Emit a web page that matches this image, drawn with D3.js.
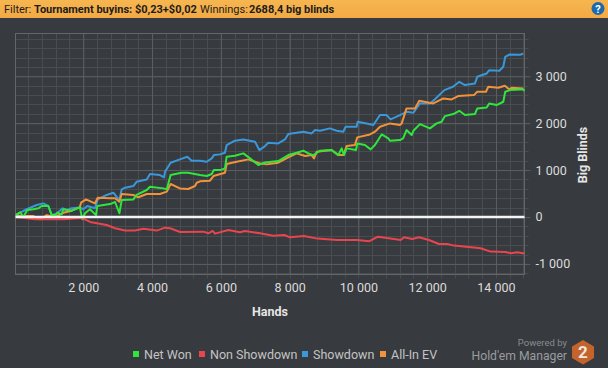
<!DOCTYPE html>
<html>
<head>
<meta charset="utf-8">
<title></title>
<script src="https://d3js.org/d3.v7.min.js"></script>
<style>
html, body { margin: 0; padding: 0; background: #373a3e; }
svg { display: block; font-family: Roboto, sans-serif; }
</style>
</head>
<body>
<svg class="chart" width="608" height="368"></svg>
<script>
const xTicks = [2000, 4000, 6000, 8000, 10000, 12000, 14000];
const yTicks = [-1000, 0, 1000, 2000, 3000];

const netWonHands = [36,163,260,375,550,695,790,985,1083,1180,1250,1370,1420,1665,1900,1974,2050,2197,2370,2410,2780,2925,3050,3118,3457,3550,3845,3940,4330,4430,4540,4860,5050,5395,5590,5735,5800,5976,6120,6170,6410,6655,6850,7090,7285,7670,7963,8205,8400,8545,8690,8883,9222,9416,9513,9581,9658,9930,9968,10190,10356,10482,10676,10870,10918,11209,11300,11400,11548,11600,11790,12080,12275,12420,12517,12760,12934,13100,13389,13457,13730,13806,14020,14213,14270,14407,14700,14794,14825];
const netWonValues = [40,100,5,150,165,185,235,235,40,40,90,55,165,135,205,-50,80,165,40,235,275,320,80,360,375,470,575,645,610,590,895,945,945,895,873,916,1000,1000,1037,1285,1306,1356,1250,1108,1164,1193,1320,1370,1413,1356,1320,1413,1427,1320,1463,1320,1463,1427,1569,1534,1441,1534,1760,1676,1626,1640,1676,1853,1747,1838,1980,1889,1995,2030,2151,2194,2265,2173,2194,2315,2336,2421,2386,2457,2670,2705,2720,2720,2690];

const nonShowdownHands = [36,600,1420,1955,2200,2680,2925,3215,3505,3750,4135,4377,4525,4815,5492,5637,5763,5830,6219,6558,6700,7139,7527,7850,8011,8418,8807,9388,9969,10308,10570,11035,11229,11326,11568,11762,12053,12343,12585,12780,13555,13845,14282,14430,14620,14824];
const nonShowdownValues = [0,-50,-50,-20,-105,-170,-240,-290,-290,-250,-290,-227,-241,-320,-312,-348,-298,-355,-277,-327,-298,-348,-398,-384,-433,-405,-461,-490,-490,-518,-419,-469,-490,-433,-469,-433,-490,-575,-575,-610,-667,-738,-745,-774,-752,-780];

const showdownHands = [36,356,647,840,985,1083,1230,1400,1520,1665,1900,2003,2120,2340,2420,2680,2875,3050,3118,3215,3457,3550,3845,3940,4230,4350,4377,4540,4810,5026,5150,5395,5590,5735,5800,5976,6120,6170,6410,6655,6994,7120,7285,7380,7670,7866,7963,8400,8640,8738,8883,9174,9368,9560,9630,9950,9978,10240,10434,10628,10820,10938,11209,11400,11600,11790,12080,12217,12500,12750,12934,13100,13389,13457,13730,13806,14100,14213,14270,14400,14700,14794];
const showdownValues = [40,165,255,290,235,40,75,185,150,185,205,165,235,185,375,470,518,360,590,625,660,750,800,915,895,845,965,1157,1228,1285,1200,1200,1178,1250,1320,1335,1370,1534,1626,1654,1605,1427,1512,1583,1569,1654,1768,1818,1782,1853,1839,1889,1839,1818,1924,1924,2030,1995,1960,2173,2173,2080,2172,2243,2222,2421,2421,2506,2705,2776,2883,2812,2847,2989,3060,3131,3117,3202,3415,3465,3458,3479];

const allInEvHands = [36,550,745,940,1180,1420,1665,1900,1936,2080,2340,2420,2780,2925,3050,3118,3457,3600,3845,4230,4430,4540,4810,5050,5250,5300,5395,5685,5785,6120,6170,6460,6800,6994,7140,7333,7670,7963,8205,8450,8640,8710,8790,9222,9416,9560,9658,9900,9968,10337,10482,10628,10918,11209,11260,11400,11645,11770,12178,12470,12711,12900,13360,13457,13710,13777,14067,14261,14388,14455,14794];
const allInEvValues = [20,20,-50,40,-5,90,135,205,305,375,290,410,398,398,325,490,470,420,490,490,540,703,610,596,660,730,760,775,873,945,1129,1178,1228,1178,1143,1122,1157,1270,1356,1300,1320,1250,1392,1427,1320,1320,1512,1534,1697,1760,1818,1924,1995,1960,1995,2315,2315,2478,2421,2528,2506,2577,2599,2670,2670,2776,2755,2797,2720,2755,2740];

const seriesNames = ['Net Won', 'Non Showdown', 'Showdown', 'All-In EV'];
const seriesColors = ['#2ee63c', '#e8454e', '#3a98da', '#f2933a'];

const svg = d3.select('.chart');

const plotLeft = 15.5, plotRight = 524.5, plotTop = 33.5, plotBottom = 274.5;
const scaleX = d3.scaleLinear().domain([30, 14830]).range([plotLeft, plotRight]);
const scaleY = d3.scaleLinear().domain([3912, -1226]).range([plotTop, plotBottom]);

const fmt = d => (d < 0 ? '-' : '') + d3.format(',')(Math.abs(d)).replace(/,/g, ' ');

// header bar
const grad = svg.append('defs').append('linearGradient')
    .attr('id', 'bar').attr('x1', 0).attr('x2', 0).attr('y1', 0).attr('y2', 1);
grad.append('stop').attr('offset', 0).attr('stop-color', '#f7b650');
grad.append('stop').attr('offset', 1).attr('stop-color', '#f2a944');
svg.append('rect').attr('width', 608).attr('height', 18).attr('fill', 'url(#bar)');

const headerParts = [
    {x: 4, t: 'Filter:', w: 400},
    {x: 34, t: 'Tournament buyins: $0,23+$0,02', w: 700},
    {x: 200, t: 'Winnings:', w: 400},
    {x: 249, t: '2688,4 big blinds', w: 700}
];
svg.selectAll('.head').data(headerParts).enter().append('text')
    .attr('class', 'head')
    .attr('x', d => d.x).attr('y', 13)
    .attr('font-size', '11px')
    .attr('font-weight', d => d.w)
    .attr('fill', '#1c1c1c')
    .text(d => d.t);

// help icon
svg.append('circle').attr('cx', 598).attr('cy', 8.5).attr('r', 6.5).attr('fill', '#1c69ab');
svg.append('text').attr('x', 598).attr('y', 12.5).attr('text-anchor', 'middle')
    .attr('font-size', '11px').attr('font-weight', 700).attr('fill', '#fff').text('?');

// grid, minor first so that major lines sit on top
const minorX = d3.range(400, 14830, 400);
const minorY = d3.range(-1200, 3912, 200);

svg.append('g').selectAll('line').data(minorX).enter().append('line')
    .attr('x1', d => Math.round(scaleX(d)) + 0.5).attr('x2', d => Math.round(scaleX(d)) + 0.5)
    .attr('y1', plotTop).attr('y2', plotBottom + 4).attr('stroke', '#4a4d50');
svg.append('g').selectAll('line').data(minorY).enter().append('line')
    .attr('y1', d => Math.round(scaleY(d)) + 0.5).attr('y2', d => Math.round(scaleY(d)) + 0.5)
    .attr('x1', plotLeft).attr('x2', plotRight + 4).attr('stroke', '#4a4d50');

const axisX = d3.axisBottom(scaleX).tickValues(xTicks).tickFormat(fmt).tickSize(0).tickPadding(9);
const axisY = d3.axisRight(scaleY).tickValues(yTicks).tickFormat(fmt).tickSize(0).tickPadding(11);

const gx = svg.append('g').attr('transform', `translate(0, ${plotBottom})`).call(axisX);
const gy = svg.append('g').attr('transform', `translate(${plotRight}, 0)`).call(axisY);
gx.select('.domain').remove();
gy.select('.domain').remove();
gx.selectAll('text').attr('font-size', '12.5px').attr('fill', '#dcdcdc').attr('font-family', 'Roboto, sans-serif');
gy.selectAll('text').attr('font-size', '12.5px').attr('fill', '#dcdcdc').attr('font-family', 'Roboto, sans-serif');
gx.selectAll('.tick').append('line').attr('y1', plotTop - plotBottom).attr('y2', 0).attr('stroke', '#5c5f62');
gy.selectAll('.tick').append('line').attr('x1', plotLeft - plotRight).attr('x2', 6).attr('stroke', '#5c5f62');

svg.append('rect').attr('x', plotLeft).attr('y', plotTop)
    .attr('width', plotRight - plotLeft).attr('height', plotBottom - plotTop)
    .attr('fill', 'none').attr('stroke', '#64676a');

// series
const lineData = [
    [netWonHands, netWonValues],
    [nonShowdownHands, nonShowdownValues],
    [showdownHands, showdownValues],
    [allInEvHands, allInEvValues]
];
const line = d3.line().x(d => scaleX(d[0])).y(d => scaleY(d[1]));

// drawing order as in the reference: blue, orange, green, then red
[2, 3, 0, 1].forEach(i => {
    svg.append('path')
        .datum(d3.zip(lineData[i][0], lineData[i][1]))
        .attr('d', line)
        .attr('fill', 'none')
        .attr('stroke', seriesColors[i])
        .attr('stroke-width', 2)
        .attr('stroke-linejoin', 'round');
});

// zero line
svg.append('line')
    .attr('x1', plotLeft).attr('x2', plotRight)
    .attr('y1', scaleY(0)).attr('y2', scaleY(0))
    .attr('stroke', '#f4f4f4').attr('stroke-width', 2.5);

// axis titles
svg.append('text').attr('x', 270).attr('y', 316).attr('text-anchor', 'middle')
    .attr('font-size', '12.5px').attr('font-weight', 700).attr('fill', '#e6e6e6').text('Hands');
svg.append('text').attr('transform', 'translate(587, 155) rotate(-90)').attr('text-anchor', 'middle')
    .attr('font-size', '12.5px').attr('font-weight', 700).attr('fill', '#e6e6e6').text('Big Blinds');

// legend
const legendX = [133, 199, 302, 380];
const legend = svg.selectAll('.leg').data(seriesNames).enter().append('g')
    .attr('class', 'leg')
    .attr('transform', (d, i) => `translate(${legendX[i]}, 351)`);
legend.append('rect').attr('width', 6).attr('height', 6).attr('fill', (d, i) => seriesColors[i]);
legend.append('text').attr('x', 11).attr('y', 7.5)
    .attr('font-size', '12.5px').attr('fill', '#c4c4c4').text(d => d);

// branding
svg.append('text').attr('x', 567).attr('y', 345.5).attr('text-anchor', 'end')
    .attr('font-size', '9.5px').attr('fill', '#8a8c8e').text('Powered by');
svg.append('text').attr('x', 567).attr('y', 359.5).attr('text-anchor', 'end')
    .attr('font-size', '12.2px').attr('fill', '#9a9c9e').text("Hold'em Manager");
svg.append('path')
    .attr('d', 'M583,340 L594,346.5 L594,358 L583,364.5 L572,358 L572,346.5 Z')
    .attr('fill', '#c4632c');
svg.append('text').attr('x', 583).attr('y', 358).attr('text-anchor', 'middle')
    .attr('font-size', '17px').attr('font-weight', 700).attr('fill', '#f0e6dc').text('2');
</script>
</body>
</html>
